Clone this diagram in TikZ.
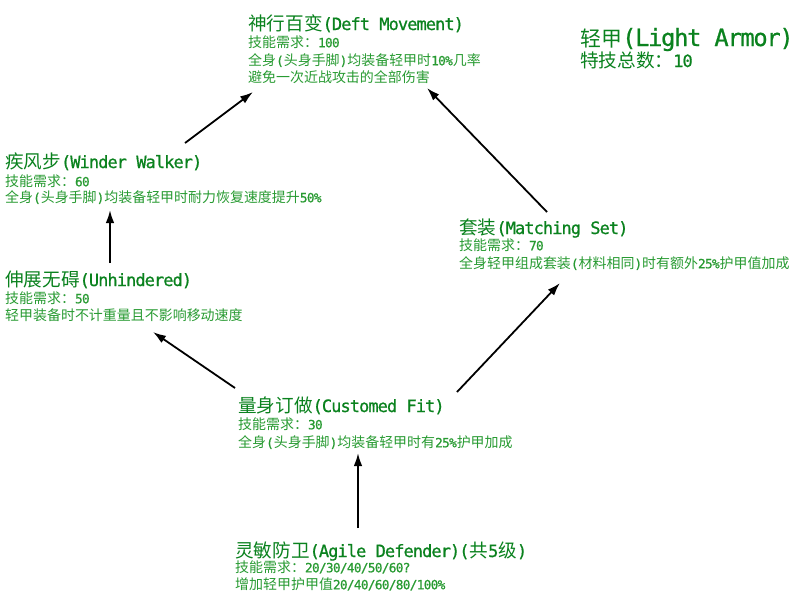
\documentclass[tikz,border=0pt]{standalone}
\usepackage{fontspec}
\setmainfont{DejaVu Sans Mono}[Scale=1.1, LetterSpace=-5.5, FakeBold=0.8]
\newfontfamily\cjk[Scale=1.204]{Noto Sans CJK SC}
\usetikzlibrary{arrows.meta}
\newcommand\zh[1]{{\cjk #1}}
\definecolor{titlegreen}{RGB}{10,130,30}
\definecolor{bodygreen}{RGB}{40,155,50}
\tikzset{
  ttl/.style={anchor=base west, inner sep=0pt, text=titlegreen, font=\fontsize{15.45pt}{17pt}\selectfont},
  big/.style={anchor=base west, inner sep=0pt, text=titlegreen, font=\fontsize{21.6pt}{24pt}\selectfont},
  txt/.style={anchor=base west, inner sep=0pt, text=bodygreen, font=\fontsize{11.6pt}{13pt}\selectfont},
  arr/.style={line width=1.8pt, -{Latex[length=13pt,width=8.5pt]}, black}
}
\begin{document}
\begin{tikzpicture}[x=1pt,y=-1pt]
\fill[white] (0,0) rectangle (800,598);
\useasboundingbox (0,0) rectangle (800,598);
% Deft Movement
\node[ttl] (dt) at (248,30) {\zh{神行百变}(Deft Movement)};
\node[txt] (d1) at (248,47.3) {\zh{技能需求：}100};
\node[txt] (d2) at (248,65.3) {\zh{全身}(\zh{头身手脚})\zh{均装备轻甲时}10\%\zh{几率}};
\node[txt] (d3) at (248,82.3) {\zh{避免一次近战攻击的全部伤害}};
% Light Armor
\node[big] (lt) at (580,46) {{\fontsize{17.4pt}{20pt}\selectfont\zh{轻甲}}(Light Armor)};
\node[ttl] (l1) at (580,67) {\zh{特技总数：}10};
% Winder Walker
\node[ttl] (wt) at (5,168) {\zh{疾风步}(Winder Walker)};
\node[txt] (w1) at (5,186.3) {\zh{技能需求：}60};
\node[txt] (w2) at (5,202.3) {\zh{全身}(\zh{头身手脚})\zh{均装备轻甲时耐力恢复速度提升}50\%};
% Unhindered
\node[ttl] (ut) at (5,286) {\zh{伸展无碍}(Unhindered)};
\node[txt] (u1) at (5,303.3) {\zh{技能需求：}50};
\node[txt] (u2) at (5,320.3) {\zh{轻甲装备时不计重量且不影响移动速度}};
% Matching Set
\node[ttl] (mt) at (459,234) {\zh{套装}(Matching Set)};
\node[txt] (m1) at (459,250.3) {\zh{技能需求：}70};
\node[txt] (m2) at (459,268.3) {\zh{全身轻甲组成套装}(\zh{材料相同})\zh{时有额外}25\%\zh{护甲值加成}};
% Customed Fit
\node[ttl] (ct) at (238,412) {\zh{量身订做}(Customed Fit)};
\node[txt] (c1) at (238,429.3) {\zh{技能需求：}30};
\node[txt] (c2) at (238,447.3) {\zh{全身}(\zh{头身手脚})\zh{均装备轻甲时有}25\%\zh{护甲加成}};
% Agile Defender
\node[ttl] (at) at (235,557) {\zh{灵敏防卫}(Agile Defender)(\zh{共}5\zh{级})};
\node[txt] (a1) at (235,572.3) {\zh{技能需求：}20/30/40/50/60?};
\node[txt] (a2) at (235,589.3) {\zh{增加轻甲护甲值}20/40/60/80/100\%};
% arrows
\draw[arr] ([xshift=180pt,yshift=25pt]wt.base west) -- ([xshift=5pt,yshift=-9.7pt]d3.base west);
\draw[arr] ([xshift=88pt,yshift=22pt]mt.base west) -- ([xshift=179pt,yshift=-5.7pt]d3.base west);
\draw[arr] ([xshift=105pt,yshift=23pt]ut.base west) -- ([xshift=105pt,yshift=-7.7pt]w2.base west);
\draw[arr] ([xshift=-3pt,yshift=24pt]ct.base west) -- ([xshift=148pt,yshift=-11.7pt]u2.base west);
\draw[arr] ([xshift=219pt,yshift=20pt]ct.base west) -- ([xshift=101pt,yshift=-14.7pt]m2.base west);
\draw[arr] ([xshift=123pt,yshift=29pt]at.base west) -- ([xshift=120pt,yshift=-5.7pt]c2.base west);
\end{tikzpicture}
\end{document}
